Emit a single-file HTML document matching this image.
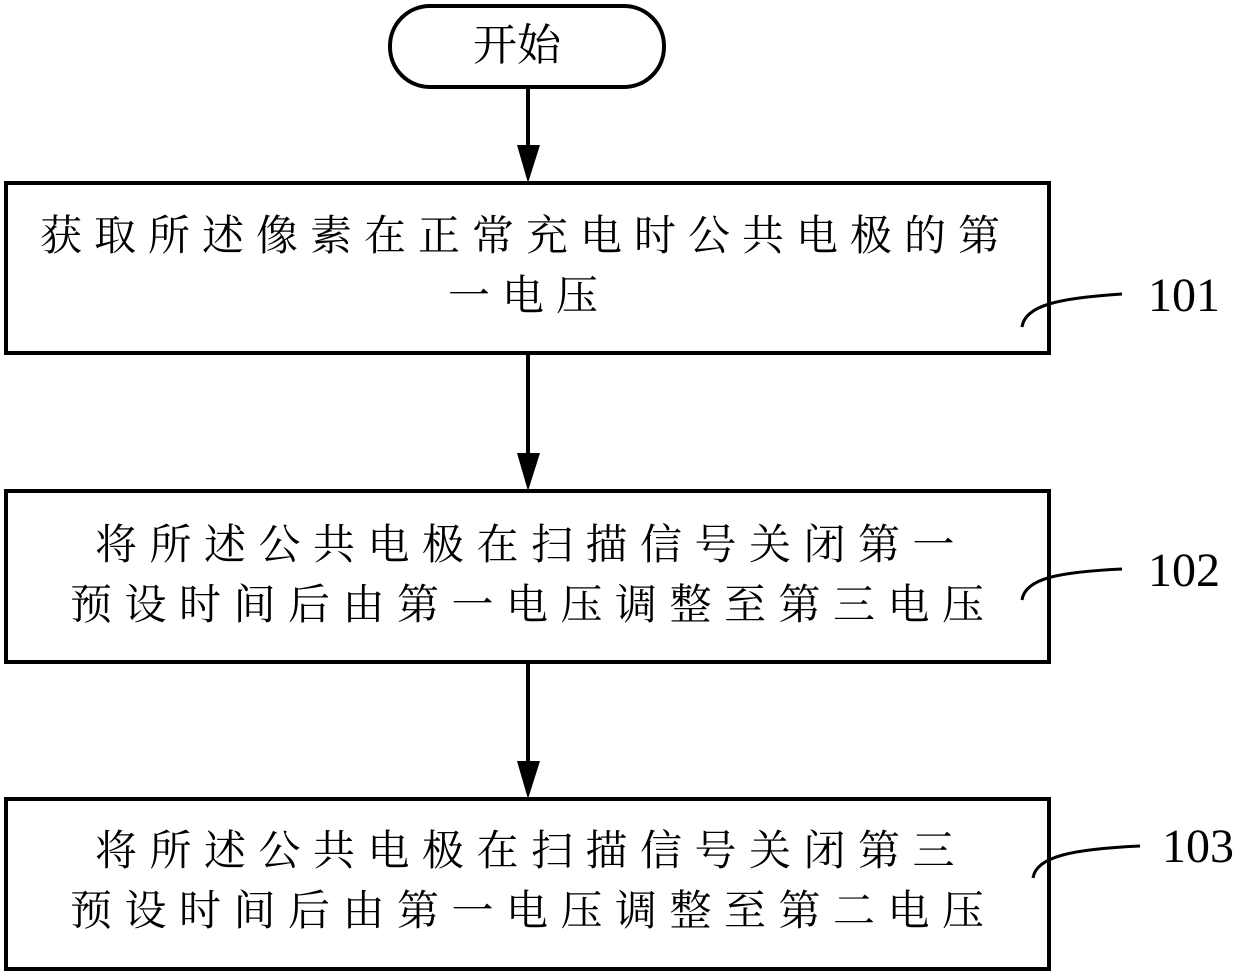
<!DOCTYPE html>
<html><head><meta charset="utf-8"><style>
body{margin:0;width:1240px;height:975px;background:#fff;position:relative;overflow:hidden}
.t{position:absolute;font-family:"Liberation Serif","Noto Serif CJK SC",serif;color:#000;white-space:nowrap;line-height:1}
.n{position:absolute;font-family:"Liberation Serif",serif;font-size:48px;line-height:1}
</style></head><body>
<svg width="1240" height="975" style="position:absolute;left:0;top:0">
<g fill="none" stroke="#000" stroke-width="4">
<rect x="390" y="6" width="274" height="81" rx="40"/>
<rect x="6" y="183" width="1043" height="170"/>
<rect x="6" y="491" width="1043" height="171"/>
<rect x="6" y="799" width="1043" height="170"/>
<line x1="528" y1="87" x2="528" y2="150"/>
<line x1="528" y1="353" x2="528" y2="458"/>
<line x1="528" y1="662" x2="528" y2="766"/>
<g stroke-width="3">
<path d="M1022 327 C1025 305 1060 298 1122 294"/>
<path d="M1022 600 C1025 578 1060 572 1122 569"/>
<path d="M1033 878 C1036 856 1075 849 1140 846"/>
</g>
</g>
<g fill="#000">
<polygon points="517,145 540,145 528,183"/>
<polygon points="517,453 540,453 528,491"/>
<polygon points="517,761 540,761 528,799"/>
</g>
</svg>
<div class="t" style="left:473px;top:24px;font-size:44px">开始</div>
<div class="t" style="left:40px;top:216px;font-size:42px;letter-spacing:12px">获取所述像素在正常充电时公共电极的第</div>
<div class="t" style="left:448px;top:276px;font-size:42px;letter-spacing:12px">一电压</div>
<div class="t" style="left:95px;top:525px;font-size:42px;letter-spacing:12.5px">将所述公共电极在扫描信号关闭第一</div>
<div class="t" style="left:70px;top:585px;font-size:42px;letter-spacing:12.5px">预设时间后由第一电压调整至第三电压</div>
<div class="t" style="left:95px;top:831px;font-size:42px;letter-spacing:12.5px">将所述公共电极在扫描信号关闭第三</div>
<div class="t" style="left:70px;top:891px;font-size:42px;letter-spacing:12.5px">预设时间后由第一电压调整至第二电压</div>
<div class="n" style="left:1148px;top:272px">101</div>
<div class="n" style="left:1148px;top:547px">102</div>
<div class="n" style="left:1162px;top:823px">103</div>
</body></html>
